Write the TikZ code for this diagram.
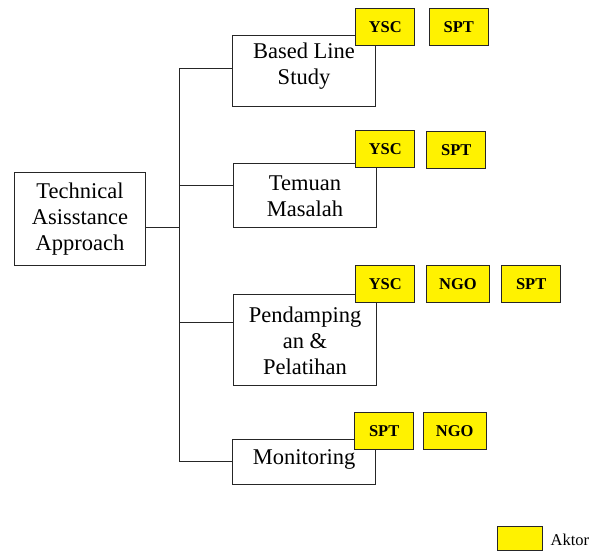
\documentclass[tikz,border=0pt]{standalone}
\usepackage{fontspec}
\setmainfont{Liberation Serif}
\begin{document}
\begin{tikzpicture}[x=1pt,y=-1pt,
  line/.style={draw=black!85,line width=1pt},
  stage/.style={line,fill=white,inner sep=0pt},
  lbl/.style={align=center,font=\fontsize{22.5}{26}\selectfont,inner sep=0pt},
  actor/.style={line,fill=yellow,inner sep=0pt,minimum width=59.3pt,minimum height=36.7pt,font=\fontsize{16.5}{18}\selectfont\bfseries},
  actorw/.style={actor,minimum width=62.6pt}]
\useasboundingbox (0,0) rectangle (589,552);
% main box
\node[stage,minimum width=131.7pt,minimum height=93.4pt] (main) at (79.85,219) {};
\node[lbl] (maint) at (80,219.5) {Technical\\Asisstance\\Approach};
% stage boxes
\node[stage,minimum width=143.4pt,minimum height=71.7pt] (b1) at (304,70.85) {};
\node[lbl] (b1t) at (304,66.5) {Based Line\\Study};
\node[stage,minimum width=143.4pt,minimum height=64.4pt] (b2) at (305,195.5) {};
\node[lbl] (b2t) at (305,196.5) {Temuan\\Masalah};
\node[stage,minimum width=143.4pt,minimum height=90.7pt] (b3) at (305,339.7) {};
\node[lbl] (b3t) at (305,340.5) {Pendamping\\an \&\\Pelatihan};
\node[stage,minimum width=143.4pt,minimum height=45pt] (b4) at (304,461.8) {};
\node[lbl] (b4t) at (304,459) {Monitoring};
% connectors
\coordinate (j0) at (179,227.7);
\coordinate (t1) at (179,68.3);
\coordinate (t2) at (179,185.7);
\coordinate (t3) at (179,322.3);
\coordinate (t4) at (179,461.7);
\draw[line] (main.east |- j0) -- (j0);
\draw[line] (t1) -- (t4);
\draw[line] (t1) -- (t1 -| b1.west);
\draw[line] (t2) -- (t2 -| b2.west);
\draw[line] (t3) -- (t3 -| b3.west);
\draw[line] (t4) -- (t4 -| b4.west);
% actors
\node[actor] (y1) at (385.3,26.7) {YSC};
\node[actor] (s1) at (458.8,26.7) {SPT};
\node[actor] (y2) at (385.3,149) {YSC};
\node[actor,minimum height=37.3pt] (s2) at (456.3,150.3) {SPT};
\node[actor,minimum height=37.3pt] (y3) at (385.3,283.7) {YSC};
\node[actorw,minimum height=37.3pt] (n3) at (458,283.7) {NGO};
\node[actor,minimum height=37.3pt] (s3) at (531.2,283.7) {SPT};
\node[actor] (s4) at (384.2,430.7) {SPT};
\node[actorw] (n4) at (454.7,430.7) {NGO};
% legend
\node[actor,minimum width=44.6pt,minimum height=24pt] (leg) at (520,538) {};
\node[anchor=west,inner sep=0pt,font=\fontsize{16.5}{18}\selectfont] (legt) at (550.5,540) {Aktor};
\end{tikzpicture}
\end{document}
